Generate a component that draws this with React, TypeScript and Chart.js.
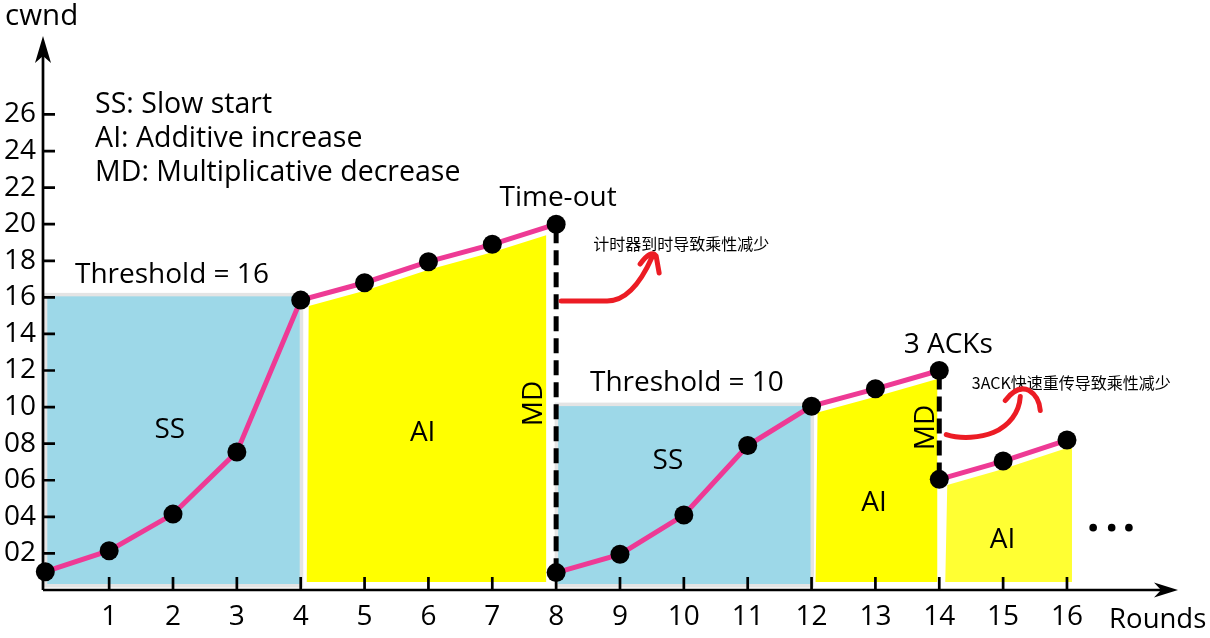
import React, { useEffect, useRef } from "react";
import { Chart, registerables } from "chart.js";

Chart.register(...registerables);

// ---- data ----
const rounds1 = [0, 1, 2, 3, 4, 5, 6, 7, 8];
const cwnd1 = [1, 2.15, 4.15, 7.55, 15.85, 16.8, 17.95, 18.9, 20];
const rounds2 = [8, 9, 10, 11, 12, 13, 14];
const cwnd2 = [0.95, 1.95, 4.1, 7.9, 10.05, 11, 12];
const rounds3 = [14, 15, 16];
const cwnd3 = [6.05, 7.05, 8.2];

const xTicks = [1, 2, 3, 4, 5, 6, 7, 8, 9, 10, 11, 12, 13, 14, 15, 16];
const yTicks = [2, 4, 6, 8, 10, 12, 14, 16, 18, 20, 22, 24, 26];

const ssStart = [0, 8];
const ssEnd = [4, 12];
const ssThreshold = [16, 10];

const aiStart = [4, 12, 14];
const aiEnd = [8, 14, 16];
const aiSeries = [0, 1, 2];

const mdRound = [8, 14];
const mdFrom = [20, 12];
const mdTo = [1, 6];

// ---- styles / annotation layout ----
const FONT = "'Open Sans', 'Noto Sans', sans-serif";
const CJK = "'Noto Sans CJK SC', sans-serif";
const PINK = "#EE3A95";
const BLUE = "#9DD8E8";
const GREY = "#E4E4E4";
const RED = "#EC1C24";
const aiColors = ["#FFFF00", "#FFFF00", "#FFFF33"];
const aiInsetL = [8, 6, 8];
const aiInsetR = [-10, -2, 5];

type Txt = { t: string; x: number; y: number; size: number; align?: CanvasTextAlign; font?: string; rot?: boolean; base?: CanvasTextBaseline };
const texts: Txt[] = [
  { t: "cwnd", x: -0.63, y: 30.87, size: 29.5, align: "left" },
  { t: "SS: Slow start", x: 0.78, y: 26.06, size: 28.5, align: "left" },
  { t: "AI: Additive increase", x: 0.78, y: 24.2, size: 28.5, align: "left" },
  { t: "MD: Multiplicative decrease", x: 0.78, y: 22.34, size: 28.5, align: "left" },
  { t: "Threshold = 16", x: 0.465, y: 16.8, size: 28, align: "left" },
  { t: "Threshold = 10", x: 8.53, y: 10.87, size: 28, align: "left" },
  { t: "Time-out", x: 8.03, y: 20.99, size: 28, align: "center" },
  { t: "3 ACKs", x: 14.14, y: 12.97, size: 28, align: "center" },
  { t: "SS", x: 1.95, y: 8.33, size: 28, align: "center" },
  { t: "AI", x: 5.91, y: 8.14, size: 28, align: "center" },
  { t: "SS", x: 9.75, y: 6.59, size: 28, align: "center" },
  { t: "AI", x: 12.98, y: 4.31, size: 28, align: "center" },
  { t: "AI", x: 14.99, y: 2.31, size: 28, align: "center" },
  { t: "MD", x: 7.78, y: 10.2, size: 28, align: "center", rot: true },
  { t: "MD", x: 13.91, y: 8.89, size: 28, align: "center", rot: true },
  { t: "Rounds", x: 16.66, y: -2.06, size: 27.5, align: "left" },
  { t: "计时器到时导致乘性减少", x: 8.58, y: 18.9, size: 16, align: "left", font: CJK, base: "middle" },
  { t: "3ACK快速重传导致乘性减少", x: 14.51, y: 11.33, size: 16, align: "left", font: CJK, base: "middle" },
];
const ellipsisX = [16.41, 16.7, 16.97];
const ellipsisY = 3.41;

// red hand-drawn arrows: anchor in data units, shape in pixel offsets
const redArrows = [
  {
    ax: 8, ay: 15.8,
    path: (c: CanvasRenderingContext2D) => {
      c.moveTo(5, 0); c.lineTo(51, 0);
      c.bezierCurveTo(69, 0, 84, -17, 96, -44);
      c.moveTo(84, -37); c.quadraticCurveTo(95, -52, 100, -45); c.lineTo(103, -28);
    },
  },
  {
    ax: 14, ay: 8.5,
    path: (c: CanvasRenderingContext2D) => {
      c.moveTo(7, 0); c.bezierCurveTo(22, 5, 42, 3, 54, -2);
      c.bezierCurveTo(70, -9, 80, -22, 81, -38);
      c.moveTo(66, -34); c.quadraticCurveTo(78, -50, 90, -44); c.quadraticCurveTo(100, -38, 101, -24);
    },
  },
];

const seriesX = [rounds1, rounds2, rounds3];
const seriesY = [cwnd1, cwnd2, cwnd3];

function lineYAt(px: number, pts: { x: number; y: number }[]) {
  let i = 0;
  while (i < pts.length - 2 && px > pts[i + 1].x) i++;
  const a = pts[i], b = pts[i + 1];
  return a.y + ((b.y - a.y) * (px - a.x)) / (b.x - a.x);
}

const decoPlugin = {
  id: "deco",
  beforeDatasetsDraw(chart: any) {
    const { ctx, scales } = chart;
    const xs = scales.x, ys = scales.y;
    const X = (v: number) => xs.getPixelForValue(v);
    const Y = (v: number) => ys.getPixelForValue(v);
    const y0 = Y(0);
    ctx.save();
    // slow start rectangles
    ssStart.forEach((s, i) => {
      const l = X(s) + 2, r = X(ssEnd[i]) - 1, t = Y(ssThreshold[i]) - 1, b = y0 - 6;
      ctx.fillStyle = GREY;
      ctx.fillRect(l - 3.5, t - 3.5, r - l + 7, b - t + 7);
      ctx.fillStyle = BLUE;
      ctx.fillRect(l, t, r - l, b - t);
    });
    // additive increase polygons
    aiStart.forEach((s, i) => {
      const si = aiSeries[i];
      const pts = seriesX[si].map((v, k) => ({ x: X(v), y: Y(seriesY[si][k]) }));
      const xl = X(s) + aiInsetL[i];
      const xr = X(aiEnd[i]) + aiInsetR[i];
      const off = 8;
      const b = y0 - 8;
      ctx.beginPath();
      ctx.moveTo(xl - 2, b);
      ctx.lineTo(xl, lineYAt(xl, pts) + off);
      pts.forEach((p) => {
        if (p.x > xl && p.x < xr) ctx.lineTo(p.x, p.y + off);
      });
      ctx.lineTo(xr, lineYAt(xr, pts) + off);
      ctx.lineTo(xr, b);
      ctx.closePath();
      ctx.fillStyle = aiColors[i];
      ctx.fill();
    });
    // axes
    const ax = X(xs.min), ay = y0;
    ctx.strokeStyle = "#000";
    ctx.fillStyle = "#000";
    ctx.lineWidth = 2.7;
    ctx.beginPath();
    ctx.moveTo(ax, ay);
    ctx.lineTo(ax, chart.chartArea.top + 20);
    ctx.moveTo(ax, ay);
    ctx.lineTo(chart.chartArea.right - 18, ay);
    ctx.stroke();
    // arrowheads
    const tY = chart.chartArea.top;
    ctx.beginPath();
    ctx.moveTo(ax, tY);
    ctx.lineTo(ax + 8, tY + 27);
    ctx.lineTo(ax, tY + 20);
    ctx.lineTo(ax - 8, tY + 27);
    ctx.closePath();
    ctx.fill();
    const tX = chart.chartArea.right - 2;
    ctx.beginPath();
    ctx.moveTo(tX, ay);
    ctx.lineTo(tX - 24, ay - 7.5);
    ctx.lineTo(tX - 17, ay);
    ctx.lineTo(tX - 24, ay + 7.5);
    ctx.closePath();
    ctx.fill();
    // tick marks
    ctx.beginPath();
    yTicks.forEach((v) => {
      ctx.moveTo(ax, Y(v));
      ctx.lineTo(ax + 12, Y(v));
    });
    xTicks.forEach((v) => {
      ctx.moveTo(X(v), ay);
      ctx.lineTo(X(v), ay - 13);
    });
    ctx.stroke();
    // dashed MD lines
    ctx.setLineDash([15, 7]);
    ctx.lineDashOffset = -4;
    ctx.lineWidth = 5;
    ctx.beginPath();
    mdRound.forEach((r, i) => {
      ctx.moveTo(X(r), Y(mdFrom[i]));
      ctx.lineTo(X(r), Y(mdTo[i]));
    });
    ctx.stroke();
    ctx.restore();
  },
  afterDatasetsDraw(chart: any) {
    const { ctx, scales } = chart;
    const X = (v: number) => scales.x.getPixelForValue(v);
    const Y = (v: number) => scales.y.getPixelForValue(v);
    ctx.save();
    ctx.fillStyle = "#000";
    texts.forEach((t) => {
      ctx.font = `${t.size}px ${t.font || FONT}`;
      ctx.textAlign = t.align || "left";
      ctx.textBaseline = t.base || "alphabetic";
      if (t.rot) {
        ctx.save();
        ctx.translate(X(t.x), Y(t.y));
        ctx.rotate(-Math.PI / 2);
        ctx.fillText(t.t, 0, 0);
        ctx.restore();
      } else {
        ctx.fillText(t.t, X(t.x), Y(t.y));
      }
    });
    ellipsisX.forEach((v) => {
      ctx.beginPath();
      ctx.arc(X(v), Y(ellipsisY), 3.8, 0, Math.PI * 2);
      ctx.fill();
    });
    ctx.strokeStyle = RED;
    ctx.lineWidth = 5;
    ctx.lineCap = "round";
    ctx.lineJoin = "round";
    redArrows.forEach((a) => {
      ctx.save();
      ctx.translate(X(a.ax), Y(a.ay));
      ctx.beginPath();
      a.path(ctx);
      ctx.stroke();
      ctx.restore();
    });
    ctx.restore();
  },
};

function mkSet(xs: number[], ys: number[]) {
  return {
    data: xs.map((x, i) => ({ x, y: ys[i] })),
    showLine: true,
    borderColor: PINK,
    borderWidth: 5,
    pointRadius: 9.5,
    pointHoverRadius: 9.5,
    pointBackgroundColor: "#000",
    pointBorderColor: "#000",
    pointBorderWidth: 0,
    clip: false as any,
    tension: 0,
  };
}

export default function App() {
  const ref = useRef<HTMLCanvasElement>(null);
  useEffect(() => {
    if (!ref.current) return;
    const chart = new Chart(ref.current, {
      type: "scatter",
      data: {
        datasets: [mkSet(rounds1, cwnd1), mkSet(rounds2, cwnd2), mkSet(rounds3, cwnd3)] as any,
      },
      options: {
        animation: false,
        responsive: false,
        devicePixelRatio: 1,
        events: [],
        layout: { padding: { top: 36, right: 30, left: 0, bottom: 0 } },
        plugins: { legend: { display: false }, tooltip: { enabled: false } },
        scales: {
          x: {
            type: "linear",
            min: -0.036,
            max: 17.77,
            grid: { display: false, drawTicks: false },
            border: { display: false },
            afterBuildTicks: (axis: any) => {
              axis.ticks = xTicks.map((v) => ({ value: v }));
            },
            afterFit: (axis: any) => {
              axis.height = 48;
            },
            ticks: {
              autoSkip: false,
              maxRotation: 0,
              padding: 10,
              color: "#000",
              font: { family: FONT, size: 28 },
              callback: (v: any) => String(v),
            },
          },
          y: {
            type: "linear",
            min: 0,
            max: 30.29,
            grid: { display: false, drawTicks: false },
            border: { display: false },
            afterBuildTicks: (axis: any) => {
              axis.ticks = yTicks.map((v) => ({ value: v }));
            },
            afterFit: (axis: any) => {
              axis.width = 43;
            },
            ticks: {
              autoSkip: false,
              padding: 7,
              color: "#000",
              font: { family: FONT, size: 28 },
              callback: (v: any) => (Number(v) < 10 ? "0" + v : String(v)),
            },
          },
        },
      },
      plugins: [decoPlugin],
    });
    return () => chart.destroy();
  }, []);
  return (
    <div style={{ position: "absolute", left: 0, top: 0, width: 1210, height: 638, background: "#fff" }}>
      <canvas ref={ref} width={1210} height={638} style={{ display: "block" }} />
    </div>
  );
}
